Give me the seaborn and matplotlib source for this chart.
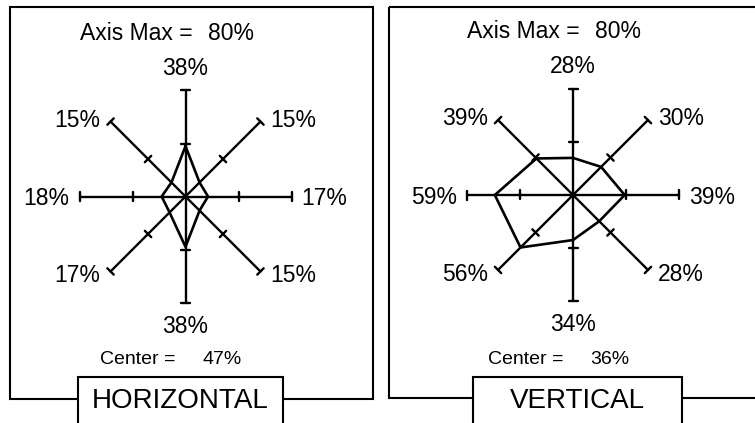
import numpy as np
import pandas as pd
import seaborn as sns
import matplotlib.pyplot as plt
from matplotlib.patches import Rectangle

# spokes go clockwise starting at the top
directions = ['N', 'NE', 'E', 'SE', 'S', 'SW', 'W', 'NW']
horizontal = [38, 15, 17, 15, 38, 17, 18, 15]
vertical = [28, 30, 39, 28, 34, 56, 59, 39]
center_values = [47, 36]
panel_names = ['HORIZONTAL', 'VERTICAL']
axis_max = 80

sns.set_style('white')
plt.rcParams['font.family'] = ['Liberation Sans', 'DejaVu Sans']
plt.rcParams['text.color'] = 'black'

W, H = 755, 423
fig = plt.figure(figsize=(W / 100, H / 100), dpi=100)

# background axes in pixel units, used for the frames and name tags
bg = fig.add_axes([0, 0, 1, 1])
bg.set_xlim(0, W)
bg.set_ylim(H, 0)
bg.axis('off')

scale = 106 / axis_max  # pixels per percent
angles = np.deg2rad(np.arange(len(directions)) * 45)
tick_half = 4.5 / scale

# label offsets (pixels) and alignment for each spoke
label_pos = {
    'N': (0, 16, 'center'), 'NE': (10, -5, 'left'), 'E': (10, -8.5, 'left'),
    'SE': (10, -11, 'left'), 'S': (0, -30, 'center'), 'SW': (-10, -11, 'right'),
    'W': (-10, -8.5, 'right'), 'NW': (-10, -5, 'right'),
}

layout = [
    dict(span=(0, 378), c=(185.5, 196.5), frame=(10, 7, 373, 399), tag=(78, 283)),
    dict(span=(378, 755), c=(573, 195), frame=(389, 7, 780, 398), tag=(473, 682)),
]

for values, cval, name, lay in zip([horizontal, vertical], center_values, panel_names, layout):
    x0, x1 = lay['span']
    cx, cy = lay['c']
    ax = fig.add_axes([x0 / W, 0, (x1 - x0) / W, 1])
    ax.axis('off')
    ax.patch.set_visible(False)

    # spokes with a tick at half way and a cap at the end
    for a in angles:
        ux, uy = np.sin(a), np.cos(a)
        px, py = -uy, ux
        ax.plot([0, axis_max * ux], [0, axis_max * uy], color='black', lw=1.7)
        for r in (axis_max / 2, axis_max):
            ax.plot([r * ux - tick_half * px, r * ux + tick_half * px],
                    [r * uy - tick_half * py, r * uy + tick_half * py],
                    color='black', lw=1.7)

    # value polygon
    v = np.array(values + values[:1], dtype=float)
    a = np.append(angles, angles[0])
    df = pd.DataFrame({'x': v * np.sin(a), 'y': v * np.cos(a)})
    sns.lineplot(data=df, x='x', y='y', sort=False, estimator=None,
                 color='black', lw=1.9, ax=ax, legend=False)
    ax.set_xlim((x0 - cx) / scale, (x1 - cx) / scale)
    ax.set_ylim((cy - H) / scale, cy / scale)
    ax.axis('off')

    # value labels at the spoke ends
    for d, ang, val in zip(directions, angles, values):
        dx, dy, ha = label_pos[d]
        ax.annotate(f'{val}%', xy=(axis_max * np.sin(ang), axis_max * np.cos(ang)),
                    xytext=(dx, dy), textcoords='offset pixels',
                    ha=ha, va='baseline', fontsize=16.5)

    ax.annotate('Axis Max =', xy=(0, 0), xytext=(7, 157), textcoords='offset pixels',
                ha='right', va='baseline', fontsize=16.5)
    ax.annotate(f'{axis_max}%', xy=(0, 0), xytext=(22, 157), textcoords='offset pixels',
                ha='left', va='baseline', fontsize=16.5)
    ax.annotate('Center =', xy=(0, 0), xytext=(-10, cy - 364), textcoords='offset pixels',
                ha='right', va='baseline', fontsize=14)
    ax.annotate(f'{cval}%', xy=(0, 0), xytext=(17, cy - 364), textcoords='offset pixels',
                ha='left', va='baseline', fontsize=14)

    # frame and name tag
    fx0, fy0, fx1, fy1 = lay['frame']
    bg.add_patch(Rectangle((fx0, fy0), fx1 - fx0, fy1 - fy0, fill=False, ec='black', lw=1.5))
    t0, t1 = lay['tag']
    bg.add_patch(Rectangle((t0, 377), t1 - t0, 80, fc='white', ec='black', lw=1.5, zorder=3))
    bg.text((t0 + t1) / 2, 408, name, ha='center', va='baseline', fontsize=20, zorder=4)

fig.savefig('out.png', dpi=100)
